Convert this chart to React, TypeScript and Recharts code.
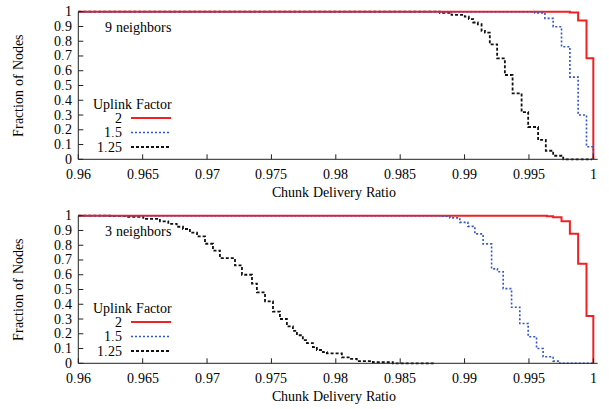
import React from "react";
import { LineChart, Line, XAxis, YAxis, Label } from "recharts";

const FONT = "PlotSerif, Liberation Serif, serif";

// x axis ticks / y axis ticks
const xTicks = [0.96, 0.965, 0.97, 0.975, 0.98, 0.985, 0.99, 0.995, 1];
const yTicks = [0, 0.1, 0.2, 0.3, 0.4, 0.5, 0.6, 0.7, 0.8, 0.9, 1];

const seriesNames = ["2", "1.5", "1.25"];
const seriesColors = ["#ee2222", "#3355cc", "#111111"];
const seriesDash = [undefined, "2 2", "3 2"];
const seriesWidth = [2, 1.6, 1.8];

// 9 neighbors panel
const nine2X = [0.96, 0.99818, 0.99882, 0.99947, 1.0];
const nine2Y = [1, 0.994, 0.94, 0.684, 0];
const nine15X = [0.96, 0.99546, 0.99624, 0.99688, 0.99753, 0.99818, 0.99882, 0.99947, 1.0];
const nine15Y = [1, 0.992, 0.955, 0.898, 0.763, 0.557, 0.3, 0.085, 0];
const nine125X = [
  0.96, 0.98808, 0.98899, 0.99002, 0.99033, 0.99067, 0.99103, 0.99132, 0.99158, 0.99196,
  0.99253, 0.99313, 0.99373, 0.99443, 0.99494, 0.99571, 0.99631, 0.99688, 0.99766, 0.9999,
];
const nine125Y = [
  1, 0.993, 0.978, 0.966, 0.95, 0.927, 0.915, 0.87, 0.858, 0.779,
  0.684, 0.571, 0.447, 0.32, 0.219, 0.131, 0.058, 0.024, 0, 0,
];

// 3 neighbors panel
const three2X = [0.96, 0.9964, 0.99688, 0.99753, 0.99818, 0.99882, 0.99947, 1.0];
const three2Y = [1, 0.997, 0.989, 0.962, 0.877, 0.674, 0.321, 0];
const three15X = [
  0.96, 0.98808, 0.98886, 0.98963, 0.99026, 0.9908, 0.99144, 0.9921, 0.99255, 0.993,
  0.99365, 0.99429, 0.99494, 0.99559, 0.9961, 0.99688, 0.9974, 1.0,
];
const three15Y = [
  1, 0.996, 0.985, 0.955, 0.928, 0.877, 0.809, 0.64, 0.62, 0.506,
  0.38, 0.27, 0.18, 0.1, 0.044, 0.015, 0, 0,
];
const three125X = [
  0.96, 0.96246, 0.96376, 0.96505, 0.96634, 0.96699, 0.96764, 0.96813, 0.96867, 0.96922,
  0.96984, 0.97046, 0.971, 0.97217, 0.97271, 0.97349, 0.97387, 0.9745, 0.97512, 0.97566,
  0.9762, 0.97667, 0.97698, 0.97744, 0.97776, 0.97822, 0.97853, 0.979, 0.97931, 0.98047,
  0.98109, 0.98163, 0.98288, 0.98443, 0.98769,
];
const three125Y = [
  1, 0.997, 0.993, 0.978, 0.962, 0.945, 0.925, 0.91, 0.885, 0.86,
  0.81, 0.764, 0.712, 0.663, 0.6, 0.54, 0.48, 0.42, 0.35, 0.3,
  0.25, 0.22, 0.19, 0.157, 0.137, 0.11, 0.09, 0.076, 0.067, 0.04,
  0.03, 0.015, 0.007, 0, 0,
];

const pts = (xs: number[], ys: number[]) => xs.map((x, i) => ({ x, y: ys[i] }));

const fmtX = (v: number) => String(Number(v.toFixed(3)));
const fmtY = (v: number) => String(Number(v.toFixed(1)));

const txt = { fontFamily: FONT, fontSize: 14, fill: "#000" };

const css = `
@font-face { font-family: "PlotSerif"; src: local("Liberation Serif"), local("LiberationSerif"), local("LiberationSerif-Regular"); }
.plot text { font-family: PlotSerif, "Liberation Serif", serif !important; font-size: 14px; }
`;

const BottomTick = ({ x, y, payload }: any) => (
  <g>
    <line x1={x} y1={y} x2={x} y2={y - 5} stroke="#222" />
    <text x={x} y={y + 15} textAnchor="middle" dominantBaseline="central" style={txt}>
      {fmtX(payload.value)}
    </text>
  </g>
);
const TopTick = ({ x, y }: any) => <line x1={x} y1={y} x2={x} y2={y + 5} stroke="#222" />;
const LeftTick = ({ x, y, payload }: any) => (
  <g>
    <line x1={x} y1={y} x2={x + 5} y2={y} stroke="#222" />
    <text x={x - 6} y={y} textAnchor="end" dominantBaseline="central" style={txt}>
      {fmtY(payload.value)}
    </text>
  </g>
);
const RightTick = ({ x, y }: any) => <line x1={x} y1={y} x2={x - 5} y2={y} stroke="#222" />;

// panel label + key, laid over the plot
function Key({ label }: { label: string }) {
  return (
    <svg width={110} height={150} style={{ position: "absolute", left: 90, top: 10 }}>
      <text x={15} y={17} dominantBaseline="central" style={txt}>
        {label}
      </text>
      <text x={3} y={94} dominantBaseline="central" style={txt}>
        Uplink Factor
      </text>
      {seriesNames.map((n, i) => (
        <g key={n}>
          <text x={32} y={108 + 14.5 * i} textAnchor="end" dominantBaseline="central" style={txt}>
            {n}
          </text>
          <line
            x1={41}
            x2={81}
            y1={108 + 14.5 * i}
            y2={108 + 14.5 * i}
            stroke={seriesColors[i]}
            strokeWidth={seriesWidth[i]}
            strokeDasharray={seriesDash[i]}
          />
        </g>
      ))}
    </svg>
  );
}

function Panel({ label, series, top }: { label: string; series: { x: number; y: number }[][]; top: number }) {
  const order = [2, 0, 1];
  return (
    <div style={{ position: "absolute", left: 0, top, width: 609, height: 204 }}>
      <LineChart width={609} height={204} margin={{ top: 11.7, right: 11.3, left: 8, bottom: 0 }}>
        <XAxis
          dataKey="x"
          type="number"
          domain={[0.96, 1.00034]}
          ticks={xTicks}
          interval={0}
          tickSize={0}
          tickMargin={0}
          tick={<BottomTick />}
          axisLine={{ stroke: "#222" }}
          height={44.7}
        >
          <Label
            content={({ viewBox }: any) => (
              <text
                x={viewBox.x + viewBox.width / 2 - 4}
                y={viewBox.y + 33}
                textAnchor="middle"
                dominantBaseline="central"
                style={txt}
              >
                Chunk Delivery Ratio
              </text>
            )}
          />
        </XAxis>
        <XAxis
          xAxisId="top"
          orientation="top"
          dataKey="x"
          type="number"
          domain={[0.96, 1.00034]}
          ticks={xTicks}
          interval={0}
          tickSize={0}
          tickMargin={0}
          tick={<TopTick />}
          axisLine={{ stroke: "#222" }}
          height={0}
        />
        <YAxis
          type="number"
          domain={[0, 1]}
          ticks={yTicks}
          interval={0}
          tickSize={0}
          tickMargin={0}
          tick={<LeftTick />}
          axisLine={{ stroke: "#222" }}
          width={70.3}
        >
          <Label
            content={({ viewBox }: any) => {
              const cx = 18;
              const cy = viewBox.y + viewBox.height / 2;
              return (
                <text
                  x={cx}
                  y={cy}
                  transform={`rotate(-90 ${cx} ${cy})`}
                  textAnchor="middle"
                  dominantBaseline="central"
                  style={txt}
                >
                  Fraction of Nodes
                </text>
              );
            }}
          />
        </YAxis>
        <YAxis
          yAxisId="right"
          orientation="right"
          type="number"
          domain={[0, 1]}
          ticks={yTicks}
          interval={0}
          tickSize={0}
          tickMargin={0}
          tick={<RightTick />}
          axisLine={{ stroke: "#222" }}
          width={0}
        />
        {order.map((i) => (
          <Line
            key={seriesNames[i]}
            data={series[i]}
            dataKey="y"
            name={seriesNames[i]}
            type="stepAfter"
            stroke={seriesColors[i]}
            strokeWidth={seriesWidth[i]}
            strokeDasharray={seriesDash[i]}
            dot={false}
            activeDot={false}
            isAnimationActive={false}
          />
        ))}
      </LineChart>
      <Key label={label} />
    </div>
  );
}

export default function App() {
  return (
    <div
      className="plot"
      style={{ position: "absolute", left: 0, top: 0, width: 609, height: 409, background: "#fff" }}
    >
      <style>{css}</style>
      <Panel
        top={0}
        label="9 neighbors"
        series={[pts(nine2X, nine2Y), pts(nine15X, nine15Y), pts(nine125X, nine125Y)]}
      />
      <Panel
        top={204}
        label="3 neighbors"
        series={[pts(three2X, three2Y), pts(three15X, three15Y), pts(three125X, three125Y)]}
      />
    </div>
  );
}
